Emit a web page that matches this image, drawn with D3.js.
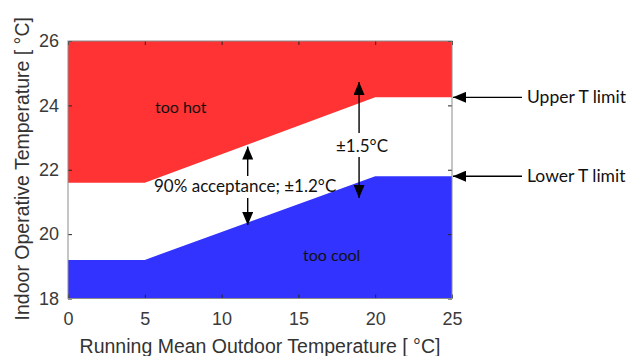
<!DOCTYPE html>
<html>
<head>
<meta charset="utf-8">
<script src="https://cdn.jsdelivr.net/npm/d3@7"></script>
<style>
  html, body { margin: 0; padding: 0; background: #fff; }
  svg { display: block; }
</style>
</head>
<body>
<svg id="chart" width="629" height="356"></svg>
<script>
// Running mean outdoor temperature breakpoints (°C)
const outdoorT = [0, 5, 20, 25];
// Acceptable indoor operative temperature limits at those breakpoints (°C)
const upperLimit = [21.6, 21.6, 24.25, 24.25];
const lowerLimit = [19.2, 19.2, 21.8, 21.8];
const xTicks = [0, 5, 10, 15, 20, 25];
const yTicks = [18, 20, 22, 24, 26];
const xDomain = [0, 25];
const yDomain = [18, 26];

const W = 629, H = 356;
const margin = { left: 68, top: 41, right: W - 452, bottom: H - 298.5 };

const svg = d3.select("#chart");
const x = d3.scaleLinear().domain(xDomain).range([margin.left, W - margin.right]);
const y = d3.scaleLinear().domain(yDomain).range([H - margin.bottom, margin.top]);

const pts = outdoorT.map((t, i) => ({ t, up: upperLimit[i], lo: lowerLimit[i] }));

// "too hot" region: above the upper limit
svg.append("path")
  .datum(pts)
  .attr("fill", "#ff3333")
  .attr("d", d3.area().x(d => x(d.t)).y0(y(yDomain[1])).y1(d => y(d.up)));

// "too cool" region: below the lower limit
svg.append("path")
  .datum(pts)
  .attr("fill", "#3333ff")
  .attr("d", d3.area().x(d => x(d.t)).y0(y(yDomain[0])).y1(d => y(d.lo)));

// Axes with inward ticks, boxed frame
const tickColor = "#262626";
const gx = svg.append("g").attr("transform", `translate(0,${y(yDomain[0])})`)
  .call(d3.axisBottom(x).tickValues(xTicks).tickSizeInner(-4).tickSizeOuter(0).tickPadding(14));
const gxt = svg.append("g").attr("transform", `translate(0,${y(yDomain[1])})`)
  .call(d3.axisTop(x).tickValues(xTicks).tickSizeInner(-4).tickSizeOuter(0).tickFormat(""));
const gy = svg.append("g").attr("transform", `translate(${x(xDomain[0])},0)`)
  .call(d3.axisLeft(y).tickValues(yTicks).tickSizeInner(-4).tickSizeOuter(0).tickPadding(9));
const gyr = svg.append("g").attr("transform", `translate(${x(xDomain[1])},0)`)
  .call(d3.axisRight(y).tickValues(yTicks).tickSizeInner(-4).tickSizeOuter(0).tickFormat(""));

[gx, gxt, gy, gyr].forEach(g => {
  g.select(".domain").remove();
  g.selectAll(".tick line").attr("stroke", tickColor).attr("stroke-width", 1);
  g.selectAll(".tick text")
    .attr("fill", "#3a3a3a")
    .style("font-family", "'Liberation Sans', Arial, sans-serif")
    .style("font-size", "18px");
});

svg.append("rect")
  .attr("x", x(xDomain[0])).attr("y", y(yDomain[1]))
  .attr("width", x(xDomain[1]) - x(xDomain[0]))
  .attr("height", y(yDomain[0]) - y(yDomain[1]))
  .attr("fill", "none").attr("stroke", "#8c8c8c").attr("stroke-width", 1);

// Axis titles
svg.append("text")
  .attr("x", (x(xDomain[0]) + x(xDomain[1])) / 2 + 0)
  .attr("y", 353)
  .attr("text-anchor", "middle")
  .attr("fill", "#333")
  .style("font-family", "'Liberation Sans', Arial, sans-serif")
  .style("font-size", "19.5px")
  .text("Running Mean Outdoor Temperature [ °C]");

svg.append("text")
  .attr("transform", `translate(29,${(y(yDomain[0]) + y(yDomain[1])) / 2 - 1}) rotate(-90)`)
  .attr("text-anchor", "middle")
  .attr("fill", "#333")
  .style("font-family", "'Liberation Sans', Arial, sans-serif")
  .style("font-size", "19.5px")
  .text("Indoor Operative Temperature [ °C]");

// Annotations
const annoFont = "Lato, 'Open Sans', sans-serif";
function label(tx, ty, str, size) {
  svg.append("text")
    .attr("x", tx).attr("y", ty)
    .attr("dy", "0.35em")
    .attr("fill", "#111")
    .style("font-family", annoFont)
    .style("font-size", (size || 17) + "px")
    .text(str);
}

const defs = svg.append("defs");
defs.append("marker")
  .attr("id", "head")
  .attr("viewBox", "0 0 13 11")
  .attr("refX", 13).attr("refY", 5.5)
  .attr("markerWidth", 13).attr("markerHeight", 11)
  .attr("markerUnits", "userSpaceOnUse")
  .attr("orient", "auto")
  .append("path").attr("d", "M0,0 L13,5.5 L0,11 Z").attr("fill", "#000");

function arrow(x1, y1, x2, y2) {
  svg.append("line")
    .attr("x1", x1).attr("y1", y1).attr("x2", x2).attr("y2", y2)
    .attr("stroke", "#000").attr("stroke-width", 1.4)
    .attr("marker-end", "url(#head)");
}

label(155, 107, "too hot", 16);
label(303, 255, "too cool", 16);

// 90% acceptance band width at about 11.7 °C outdoor
const a1x = x(11.7);
label(154, 186, "90% acceptance; ±1.2°C");
arrow(a1x, 176, a1x, y(22.72));
arrow(a1x, 198, a1x, y(20.28));

// ±1.5 °C band at about 19 °C outdoor
const a2x = x(18.95);
label(336, 146, "±1.5°C");
arrow(a2x, 133, a2x, y(24.73));
arrow(a2x, 157, a2x, y(21.12));

// Limit callouts on the right edge
arrow(522, y(upperLimit[3]), x(xDomain[1]) + 1, y(upperLimit[3]));
arrow(522, y(lowerLimit[3]), x(xDomain[1]) + 1, y(lowerLimit[3]));
label(527, y(upperLimit[3]), "Upper T limit", 17.5);
label(527, y(lowerLimit[3]), "Lower T limit", 17.5);
</script>
</body>
</html>
